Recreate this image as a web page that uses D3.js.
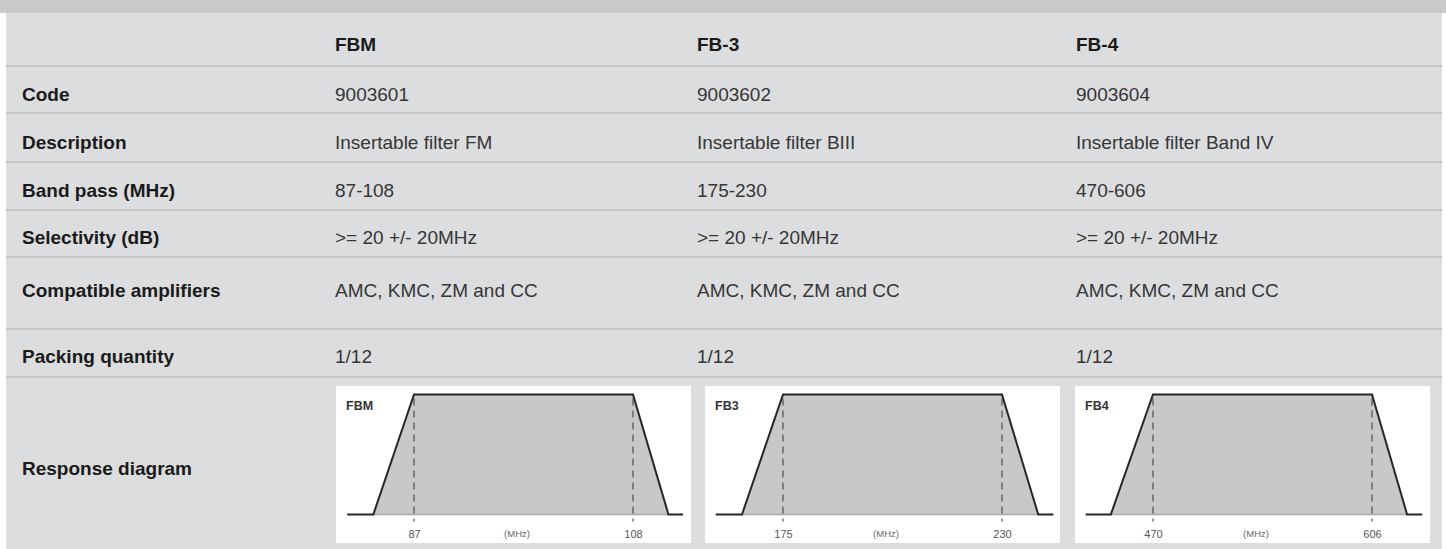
<!DOCTYPE html>
<html>
<head>
<meta charset="utf-8">
<script src="https://cdn.jsdelivr.net/npm/d3@7"></script>
<style>
html,body{margin:0;padding:0;background:#ffffff;}
svg{display:block;}
</style>
</head>
<body>
<div id="chart"></div>
<script>
// ---- data ----
const products = ["FBM", "FB-3", "FB-4"];
const rowLabels = ["Code", "Description", "Band pass (MHz)", "Selectivity (dB)", "Compatible amplifiers", "Packing quantity", "Response diagram"];
const codes = ["9003601", "9003602", "9003604"];
const descriptions = ["Insertable filter FM", "Insertable filter BIII", "Insertable filter Band IV"];
const bandPass = ["87-108", "175-230", "470-606"];
const selectivity = [">= 20 +/- 20MHz", ">= 20 +/- 20MHz", ">= 20 +/- 20MHz"];
const amplifiers = ["AMC, KMC, ZM and CC", "AMC, KMC, ZM and CC", "AMC, KMC, ZM and CC"];
const packing = ["1/12", "1/12", "1/12"];
const diagramNames = ["FBM", "FB3", "FB4"];
const bandLow = [87, 175, 470];
const bandHigh = [108, 230, 606];
const axisUnit = "(MHz)";
// response curves: [frequency MHz, relative level 0..1]
const responseFBM = [[80.6, 0], [83.1, 0], [87, 1], [108, 1], [111.4, 0], [112.8, 0]];
const responseFB3 = [[158.1, 0], [164.7, 0], [175, 1], [230, 1], [239.1, 0], [242.9, 0]];
const responseFB4 = [[428.2, 0], [443.8, 0], [470, 1], [606, 1], [627.8, 0], [637.2, 0]];
const responses = [responseFBM, responseFB3, responseFB4];

// ---- layout ----
const W = 1446, H = 549;
const svg = d3.select("#chart").append("svg").attr("width", W).attr("height", H);
const FONT = "'Liberation Sans', Arial, Helvetica, sans-serif";

svg.append("rect").attr("x", 0).attr("y", 0).attr("width", W).attr("height", 13).attr("fill", "#c8c9cb");
svg.append("rect").attr("x", 6).attr("y", 13).attr("width", 1436).attr("height", H - 13).attr("fill", "#dcdddf");

const separators = [66, 113, 162, 210, 257, 329, 377];
svg.selectAll("line.sep").data(separators).enter().append("line")
  .attr("class", "sep")
  .attr("x1", 6).attr("x2", 1442)
  .attr("y1", d => d).attr("y2", d => d)
  .attr("stroke", "#c4c5c7").attr("stroke-width", 2);

const colX = [335, 697, 1076];
const headerBaseline = 51;
const rowBaselines = [101, 149, 197, 244, 297, 363, 475];

// header
svg.selectAll("text.hdr").data(products).enter().append("text")
  .attr("class", "hdr")
  .attr("x", (d, i) => colX[i]).attr("y", headerBaseline)
  .attr("font-family", FONT).attr("font-size", 19).attr("font-weight", "bold")
  .attr("fill", "#1a1a1a").text(d => d);

// row labels
svg.selectAll("text.rl").data(rowLabels).enter().append("text")
  .attr("class", "rl")
  .attr("x", 22).attr("y", (d, i) => rowBaselines[i])
  .attr("font-family", FONT).attr("font-size", 19).attr("font-weight", "bold")
  .attr("fill", "#1a1a1a").text(d => d);

// cell values
const valueRows = [codes, descriptions, bandPass, selectivity, amplifiers, packing];
valueRows.forEach((arr, r) => {
  svg.selectAll("text.v" + r).data(arr).enter().append("text")
    .attr("class", "v" + r)
    .attr("x", (d, i) => colX[i]).attr("y", rowBaselines[r])
    .attr("font-family", FONT).attr("font-size", 19).attr("font-weight", 300)
    .attr("fill", "#363636").text(d => d);
});

// response diagrams
const boxX = [336, 705, 1075];
const boxY = 386, boxW = 355, boxH = 157;

responses.forEach((data, i) => {
  const bx = boxX[i];
  const g = svg.append("g");
  g.append("rect").attr("x", bx).attr("y", boxY).attr("width", boxW).attr("height", boxH).attr("fill", "#ffffff");

  const x = d3.scaleLinear().domain([bandLow[i], bandHigh[i]]).range([bx + 78, bx + 297]);
  const y = d3.scaleLinear().domain([0, 1]).range([boxY + 128.5, boxY + 8.5]);

  const area = d3.area().x(d => x(d[0])).y0(y(0)).y1(d => y(d[1]));
  g.append("path").datum(data.slice(1, data.length - 1)).attr("d", area).attr("fill", "#c9c8c6");
  g.append("line").attr("x1", x(data[1][0])).attr("x2", x(data[data.length - 2][0]))
    .attr("y1", y(0)).attr("y2", y(0)).attr("stroke", "#a9a9a9").attr("stroke-width", 1.5);

  // dashed markers
  [bandLow[i], bandHigh[i]].forEach(f => {
    g.append("line").attr("x1", x(f)).attr("x2", x(f))
      .attr("y1", y(1) + 4).attr("y2", y(0) + 7)
      .attr("stroke", "#444").attr("stroke-width", 1.1).attr("stroke-dasharray", "7,5");
  });

  const line = d3.line().x(d => x(d[0])).y(d => y(d[1]));
  g.append("path").datum(data).attr("d", line).attr("fill", "none")
    .attr("stroke", "#262626").attr("stroke-width", 2).attr("stroke-linejoin", "miter");

  // tick labels
  const axis = d3.axisBottom(x).tickValues([bandLow[i], bandHigh[i]]).tickSize(0).tickPadding(0);
  const ag = g.append("g").attr("transform", `translate(0,${boxY + 152})`).call(axis);
  ag.select(".domain").remove();
  ag.selectAll("text").attr("dy", 0).attr("font-family", FONT).attr("font-size", 11).attr("fill", "#555");

  g.append("text").attr("x", bx + 181).attr("y", boxY + 151)
    .attr("text-anchor", "middle").attr("font-family", FONT).attr("font-size", 9.5)
    .attr("fill", "#666").text(axisUnit);

  g.append("text").attr("x", bx + 10).attr("y", boxY + 24)
    .attr("font-family", FONT).attr("font-size", 12.5).attr("font-weight", "bold")
    .attr("fill", "#333").text(diagramNames[i]);
});
</script>
</body>
</html>
